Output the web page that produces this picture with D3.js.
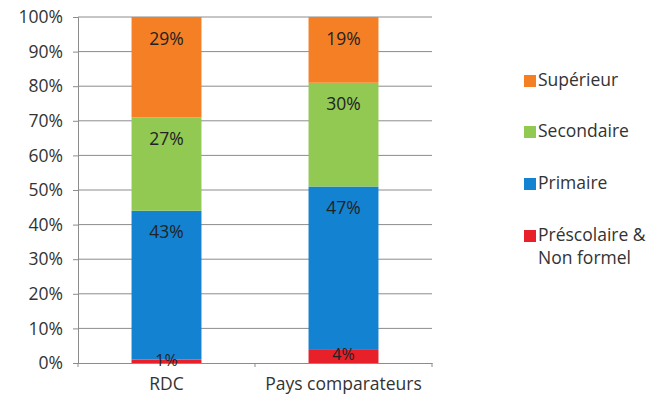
<!DOCTYPE html>
<html>
<head>
<meta charset="utf-8">
<script src="https://cdn.jsdelivr.net/npm/d3@7"></script>
<style>
  body { margin: 0; background: #fff; }
  text { font-family: 'Open Sans', sans-serif; }
</style>
</head>
<body>
<script>
// data
const categories = ['RDC', 'Pays comparateurs']
const levels = ['Préscolaire & Non formel', 'Primaire', 'Secondaire', 'Supérieur']
const prescolaire = [1, 4]
const primaire = [43, 47]
const secondaire = [27, 30]
const superieur = [29, 19]
const yTicks = [0, 10, 20, 30, 40, 50, 60, 70, 80, 90, 100]

const colors = ['#E8202A', '#1382D1', '#92C953', '#F57F25']

const width = 662
const height = 396
const margin = { top: 17, right: 230, bottom: 33, left: 78 }

const svg = d3.select('body')
  .append('svg')
  .attr('width', width)
  .attr('height', height)

const x = d3.scaleBand()
  .domain(categories)
  .range([margin.left, width - margin.right])

const y = d3.scaleLinear()
  .domain([0, 100])
  .range([height - margin.bottom, margin.top])

const barW = x.bandwidth() * 0.395

// gridlines
svg.append('g')
  .selectAll('line')
  .data(yTicks.slice(1))
  .join('line')
  .attr('x1', margin.left)
  .attr('x2', width - margin.right)
  .attr('y1', d => y(d))
  .attr('y2', d => y(d))
  .attr('stroke', '#8c8c8c')

// y axis
const yAxis = svg.append('g')
  .attr('transform', `translate(${margin.left},0)`)
  .call(d3.axisLeft(y).tickValues(yTicks).tickFormat(d => d + '%').tickSize(5).tickPadding(10))
yAxis.select('.domain').attr('stroke', '#8c8c8c')
yAxis.selectAll('.tick line').attr('stroke', '#8c8c8c')
yAxis.selectAll('.tick text').attr('fill', '#333').style('font-size', '17.5px')
  .style('font-family', 'Open Sans, sans-serif')

// x axis
const xAxis = svg.append('g')
  .attr('transform', `translate(0,${y(0)})`)
  .call(d3.axisBottom(x).tickSize(0).tickPadding(15))
xAxis.select('.domain').attr('stroke', '#8c8c8c')
xAxis.selectAll('.tick text').attr('fill', '#333').style('font-size', '17.5px')
  .style('font-family', 'Open Sans, sans-serif')
svg.append('g')
  .selectAll('line')
  .data([0, 1, 2])
  .join('line')
  .attr('x1', d => margin.left + d * x.step())
  .attr('x2', d => margin.left + d * x.step())
  .attr('y1', y(0))
  .attr('y2', y(0) + 4)
  .attr('stroke', '#8c8c8c')

// stacked bars
const rows = categories.map((c, i) => ({
  cat: c,
  vals: [prescolaire[i], primaire[i], secondaire[i], superieur[i]]
}))

const segs = []
rows.forEach(row => {
  let base = 0
  const cx = x(row.cat) + x.bandwidth() / 2
  row.vals.forEach((v, k) => {
    segs.push({ cx, v, k, y0: y(base), y1: y(base + v) })
    base += v
  })
})

svg.append('g')
  .selectAll('rect')
  .data(segs)
  .join('rect')
  .attr('x', d => d.cx - barW / 2)
  .attr('y', d => d.y1)
  .attr('width', barW)
  .attr('height', d => d.y0 - d.y1)
  .attr('fill', d => colors[d.k])

// labels: near the top of tall segments, centred on thin ones
svg.append('g')
  .selectAll('text')
  .data(segs)
  .join('text')
  .attr('x', d => d.cx)
  .attr('y', d => (d.y0 - d.y1 > 44 ? d.y1 + 23 : (d.y0 + d.y1) / 2))
  .attr('text-anchor', 'middle')
  .attr('dominant-baseline', 'middle')
  .style('font-size', d => (d.y0 - d.y1 > 44 ? '17.5px' : '16px'))
  .attr('fill', '#222')
  .text(d => d.v + '%')

// legend
const legendY = [236, 184, 132, 81]
const legend = svg.append('g')
levels.forEach((name, k) => {
  legend.append('rect')
    .attr('x', 524)
    .attr('y', legendY[k] - 6)
    .attr('width', 12)
    .attr('height', 12)
    .attr('fill', colors[k])
  const t = legend.append('text')
    .attr('x', 538)
    .attr('y', legendY[k])
    .attr('dominant-baseline', 'middle')
    .style('font-size', '17.5px')
    .attr('fill', '#333')
  const parts = name === 'Préscolaire & Non formel' ? ['Préscolaire &', 'Non formel'] : [name]
  parts.forEach((p, j) => {
    t.append('tspan')
      .attr('x', 538)
      .attr('dy', j === 0 ? 0 : 23)
      .text(p)
  })
})
</script>
</body>
</html>
